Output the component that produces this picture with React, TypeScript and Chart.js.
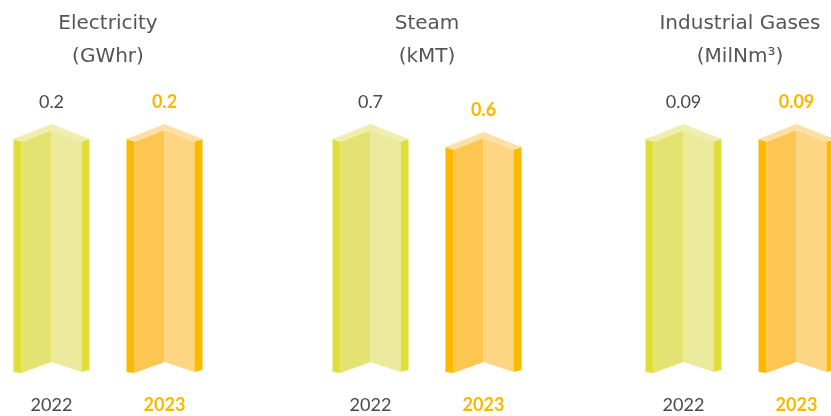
import React, { useEffect, useRef } from "react";
import { Chart, registerables } from "chart.js";

Chart.register(...registerables);

// ---- data ----
const YEARS = ["2022", "2023"];
const GROUP_TITLES: string[][] = [
  ["Electricity", "(GWhr)"],
  ["Steam", "(kMT)"],
  ["Industrial Gases", "(MilNm³)"],
];
const ELECTRICITY = [0.2, 0.2];
const STEAM = [0.7, 0.6];
const INDUSTRIAL_GASES = [0.09, 0.09];
const GROUP_VALUES = [ELECTRICITY, STEAM, INDUSTRIAL_GASES];
const VALUE_LABELS = [
  ["0.2", "0.2"],
  ["0.7", "0.6"],
  ["0.09", "0.09"],
];

// ---- styles ----
const FONT = "Lato, 'Open Sans', sans-serif";
const TITLE_FONT = "'DejaVu Sans', Lato, sans-serif";
const GRAY = "#4a4a4a";
const TITLE_GRAY = "#555555";
const ORANGE = "#f9b800";
const PALETTES = [
  { strip: "#e0de3a", left: "#e4e270", right: "#ebe99c", cap: "#efedb0" },
  { strip: "#fbb900", left: "#fdc650", right: "#fed582", cap: "#fee0a6" },
];
const CANVAS_W = 226;
const CANVAS_H = 416;
const GROUP_LEFTS = [-5.5, 313.8, 626.7];
// visual floor of each scale, as a multiple of the group max
const FLOOR_FACTOR = -3.446;

const foldedBars = {
  id: "foldedBars",
  afterDatasetsDraw(chart: any) {
    const ctx = chart.ctx;
    const meta = chart.getDatasetMeta(0);
    const labels = chart.options.plugins.foldedBars.labels as string[];
    meta.data.forEach((el: any, i: number) => {
      const p = PALETTES[i % 2];
      const cx = el.x;
      const half = el.width / 2;
      const s = el.width * 0.105;
      const inner = half - s;
      const yT = el.y;
      const yB = el.base;
      const slope = 15 / 38;
      const poly = (pts: number[][], color: string) => {
        ctx.beginPath();
        ctx.moveTo(pts[0][0], pts[0][1]);
        for (let k = 1; k < pts.length; k++) ctx.lineTo(pts[k][0], pts[k][1]);
        ctx.closePath();
        ctx.fillStyle = color;
        ctx.fill();
      };
      ctx.save();
      const capOut = yT + half * slope;
      const innerPeak = yT + 6;
      const innerEdge = innerPeak + inner * slope;
      const notch = yB - inner * 0.37;
      poly(
        [
          [cx - inner, innerEdge],
          [cx, innerPeak],
          [cx, notch],
          [cx - inner, yB],
        ],
        p.left
      );
      poly(
        [
          [cx, innerPeak],
          [cx + inner, innerEdge],
          [cx + inner, yB - 1],
          [cx, notch],
        ],
        p.right
      );
      poly(
        [
          [cx - half, capOut],
          [cx - inner, innerEdge],
          [cx - inner, yB],
          [cx - half, yB - 1],
        ],
        p.strip
      );
      poly(
        [
          [cx + inner, innerEdge],
          [cx + half, capOut],
          [cx + half, yB - 3],
          [cx + inner, yB - 1],
        ],
        p.strip
      );
      poly(
        [
          [cx - half, capOut],
          [cx, yT],
          [cx + half, capOut],
          [cx + inner, innerEdge],
          [cx, innerPeak],
          [cx - inner, innerEdge],
        ],
        p.cap
      );
      ctx.font = `${i === 1 ? "bold " : ""}18px ${FONT}`;
      ctx.fillStyle = i === 1 ? ORANGE : GRAY;
      ctx.textAlign = "center";
      ctx.textBaseline = "middle";
      ctx.fillText(labels[i], cx, yT - 22);
      ctx.restore();
    });
  },
};

function GroupChart({ index }: { index: number }) {
  const ref = useRef<HTMLCanvasElement | null>(null);
  useEffect(() => {
    if (!ref.current) return;
    const values = GROUP_VALUES[index];
    const vmax = Math.max(...values);
    const vmin = vmax * FLOOR_FACTOR;
    const chart = new Chart(ref.current, {
      type: "bar",
      data: {
        labels: YEARS,
        datasets: [
          {
            data: values,
            base: vmin,
            backgroundColor: "rgba(0,0,0,0)",
            borderWidth: 0,
            categoryPercentage: 1,
            barPercentage: 76 / 113,
          } as any,
        ],
      },
      plugins: [foldedBars as any],
      options: {
        animation: false,
        responsive: false,
        events: [],
        layout: { padding: 0 },
        plugins: {
          legend: { display: false },
          tooltip: { enabled: false },
          title: {
            display: true,
            text: GROUP_TITLES[index],
            color: TITLE_GRAY,
            font: { family: TITLE_FONT, size: 20, weight: "normal", lineHeight: 1.65 },
            padding: { top: 7, bottom: 51 },
          },
          foldedBars: { labels: VALUE_LABELS[index] },
        } as any,
        scales: {
          x: {
            offset: true,
            grid: { display: false, drawTicks: false },
            border: { display: false },
            ticks: {
              padding: 21,
              color: (c: any) => (c.index === 1 ? ORANGE : GRAY),
              font: (c: any) => ({
                family: FONT,
                size: 18,
                weight: c.index === 1 ? "bold" : "normal",
              }),
            },
            afterFit: (scale: any) => {
              scale.height = 43;
            },
          },
          y: {
            display: false,
            min: vmin,
            max: vmax,
          },
        },
      } as any,
    });
    return () => chart.destroy();
  }, [index]);
  return (
    <div
      style={{
        position: "absolute",
        left: GROUP_LEFTS[index],
        top: 0,
        width: CANVAS_W,
        height: CANVAS_H,
      }}
    >
      <canvas ref={ref} width={CANVAS_W} height={CANVAS_H} />
    </div>
  );
}

export default function App() {
  return (
    <div
      style={{
        position: "fixed",
        left: 0,
        top: 0,
        width: 831,
        height: 416,
        overflow: "hidden",
        background: "#ffffff",
      }}
    >
      {[0, 1, 2].map((i) => (
        <GroupChart key={i} index={i} />
      ))}
    </div>
  );
}
